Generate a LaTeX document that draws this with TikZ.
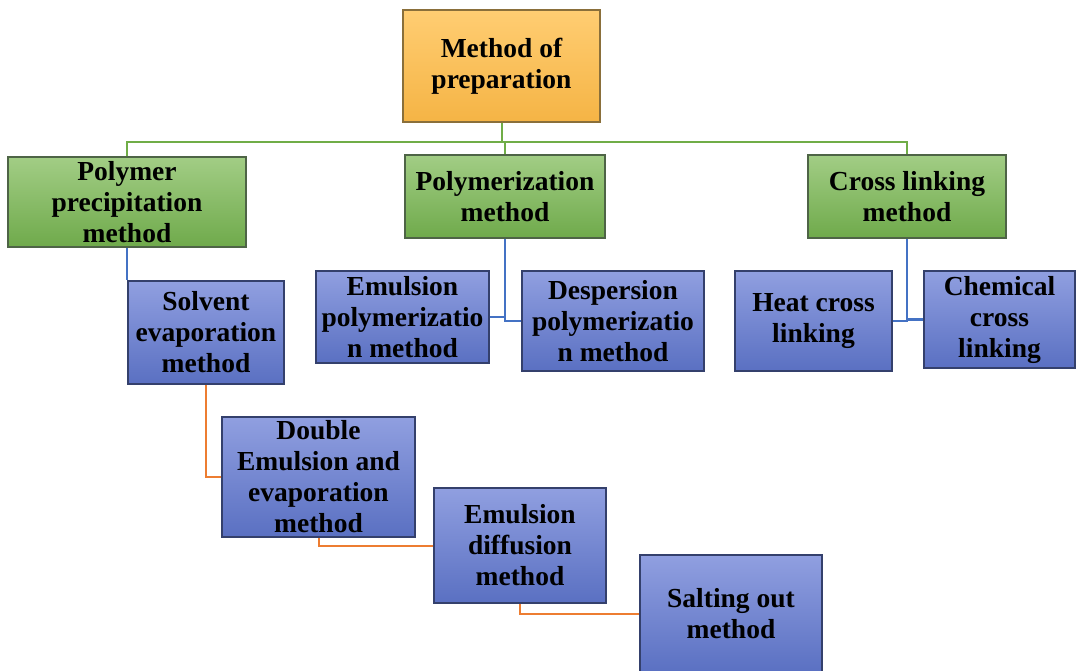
\documentclass[tikz,border=0pt]{standalone}
\usepackage{fontspec}
\setmainfont{Liberation Serif}
\definecolor{orT}{HTML}{FFCD72}
\definecolor{orB}{HTML}{F5B445}
\definecolor{orD}{HTML}{8A6F3A}
\definecolor{grT}{HTML}{A2CD85}
\definecolor{grB}{HTML}{6FAA4B}
\definecolor{grD}{HTML}{4E6446}
\definecolor{blT}{HTML}{909FE0}
\definecolor{blB}{HTML}{5A70C2}
\definecolor{blD}{HTML}{34406C}
\definecolor{gLine}{HTML}{70AD47}
\definecolor{bLine}{HTML}{4472C4}
\definecolor{oLine}{HTML}{ED7D31}
\tikzset{
  basebox/.style={draw, line width=1.4pt, inner sep=0pt, align=center,
    font=\bfseries\fontsize{27.5}{31}\selectfont, text=black},
  orbox/.style={basebox, draw=orD, top color=orT, bottom color=orB},
  grbox/.style={basebox, draw=grD, top color=grT, bottom color=grB},
  blbox/.style={basebox, draw=blD, top color=blT, bottom color=blB},
  gline/.style={draw=gLine, line width=2pt},
  bline/.style={draw=bLine, line width=2.5pt},
  oline/.style={draw=oLine, line width=2pt},
}
\begin{document}
\begin{tikzpicture}[x=1pt, y=-1pt]
\clip (0,0) rectangle (1076,671);
\fill[white] (0,0) rectangle (1076,671);
% boxes
\node[orbox, minimum width=197pt, minimum height=112pt] (top) at (501.5,66) {Method of\\preparation};
\node[grbox, minimum width=238pt, minimum height=90pt] (pp) at (127,202) {Polymer\\precipitation\\method};
\node[grbox, minimum width=200pt, minimum height=83pt] (pm) at (505,196.5) {Polymerization\\method};
\node[grbox, minimum width=198pt, minimum height=83pt] (cl) at (907,196.5) {Cross linking\\method};
\node[blbox, minimum width=156pt, minimum height=103pt] (solv) at (206,332.5) {Solvent\\evaporation\\method};
\node[blbox, minimum width=173pt, minimum height=92pt] (ep) at (402.5,317) {Emulsion\\polymerizatio\\n method};
\node[blbox, minimum width=182pt, minimum height=100pt] (dp) at (613,321) {Despersion\\polymerizatio\\n method};
\node[blbox, minimum width=157pt, minimum height=100pt] (hc) at (813.5,321) {Heat cross\\linking};
\node[blbox, minimum width=151pt, minimum height=97pt] (cc) at (999.5,319.5) {Chemical\\cross\\linking};
\node[blbox, minimum width=193pt, minimum height=120pt] (de) at (318.5,477) {Double\\Emulsion and\\evaporation\\method};
\node[blbox, minimum width=172pt, minimum height=115pt] (ed) at (520,545.5) {Emulsion\\diffusion\\method};
\node[blbox, minimum width=182pt, minimum height=118pt] (so) at (731,614) {Salting out\\method};
% green connectors
\draw[gline] (top.south) -- (top.south |- 0,142);
\draw[gline] (pp.north) -- (pp.north |- 0,142) -- (cl.north |- 0,142) -- (cl.north);
\draw[gline] (pm.north |- 0,142) -- (pm.north);
% blue connectors
\draw[bline] (pp.south) -- (pp.south |- solv.north);
\draw[bline] (pm.south) |- (ep.east);
\draw[bline] (pm.south) |- (dp.west);
\draw[bline] (cl.south) |- (hc.east);
\draw[bline] (cl.south) |- (cc.west);
% orange connectors
\draw[oline] (solv.south) |- (de.west);
\draw[oline] (de.south) |- (ed.west);
\draw[oline] (ed.south) |- (so.west);
\end{tikzpicture}
\end{document}
